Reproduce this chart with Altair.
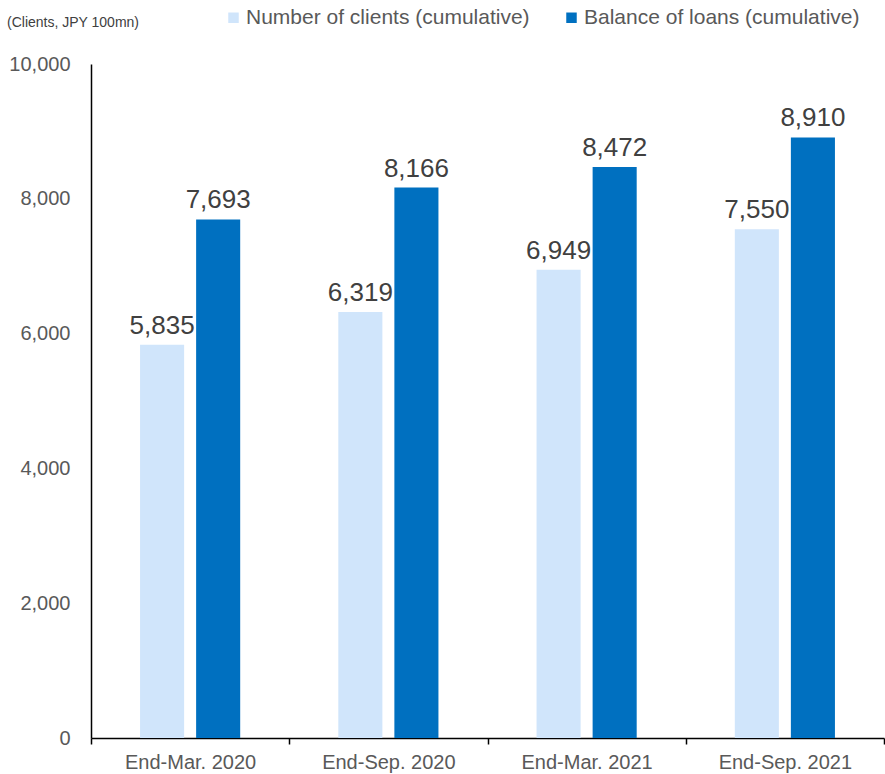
import altair as alt
import pandas as pd

periods = ["End-Mar. 2020", "End-Sep. 2020", "End-Mar. 2021", "End-Sep. 2021"]
series_names = ["Number of clients (cumulative)", "Balance of loans (cumulative)"]
clients = [5835, 6319, 6949, 7550]
loans = [7693, 8166, 8472, 8910]
colors = ["#D0E5FB", "#0070C0"]
unit_note = "(Clients, JPY 100mn)"

rows = []
for i, p in enumerate(periods):
    rows.append({"period": p, "series": series_names[0], "value": clients[i]})
    rows.append({"period": p, "series": series_names[1], "value": loans[i]})
df = pd.DataFrame(rows)

FONT = "Liberation Sans"

x_enc = alt.X("period:N", sort=periods, title=None,
              scale=alt.Scale(paddingInner=0, paddingOuter=0),
              axis=alt.Axis(labelAngle=0, labelPadding=8, tickBand="extent",
                            ticks=True, tickSize=6))
xoff = alt.XOffset("series:N", sort=series_names,
                   scale=alt.Scale(paddingInner=0.214, paddingOuter=0.875))
y_enc = alt.Y("value:Q", title=None,
              scale=alt.Scale(domain=[0, 10000], nice=False),
              axis=alt.Axis(values=[0, 2000, 4000, 6000, 8000, 10000], format=",d",
                            ticks=False, grid=False, labelPadding=21))

bars = alt.Chart(df).mark_bar().encode(
    x=x_enc, xOffset=xoff, y=y_enc,
    color=alt.Color("series:N", sort=series_names,
                    scale=alt.Scale(domain=series_names, range=colors),
                    legend=alt.Legend(title=None, orient="none", direction="horizontal",
                                      legendX=132, legendY=-57, symbolType="square",
                                      symbolSize=110, symbolStrokeWidth=0,
                                      labelFontSize=21, labelColor="#595959",
                                      labelFont=FONT, labelLimit=0, columnPadding=31,
                                      labelOffset=2)),
)

labels = alt.Chart(df).mark_text(baseline="bottom", dy=-6, fontSize=26,
                                 color="#404040", font=FONT).encode(
    x=x_enc, xOffset=xoff, y=y_enc,
    text=alt.Text("value:Q", format=",d"),
)

note = alt.Chart(pd.DataFrame({"t": [unit_note]})).mark_text(
    align="left", baseline="middle", fontSize=14, color="#404040", font=FONT
).encode(x=alt.value(-84), y=alt.value(-41), text="t:N")

chart = alt.layer(bars, labels, note).properties(
    width=793, height=674,
    autosize=alt.AutoSizeParams(type="none"),
    padding={"left": 91, "top": 64, "right": 1, "bottom": 36},
).configure_view(stroke=None).configure_legend(padding=0).configure_axis(
    labelFontSize=20, labelColor="#595959", labelFont=FONT,
    domainColor="#000000", domainWidth=1.5, tickColor="#000000", tickWidth=1.5,
)

chart.save("out.html", embed_options={"renderer": "svg", "actions": False})
